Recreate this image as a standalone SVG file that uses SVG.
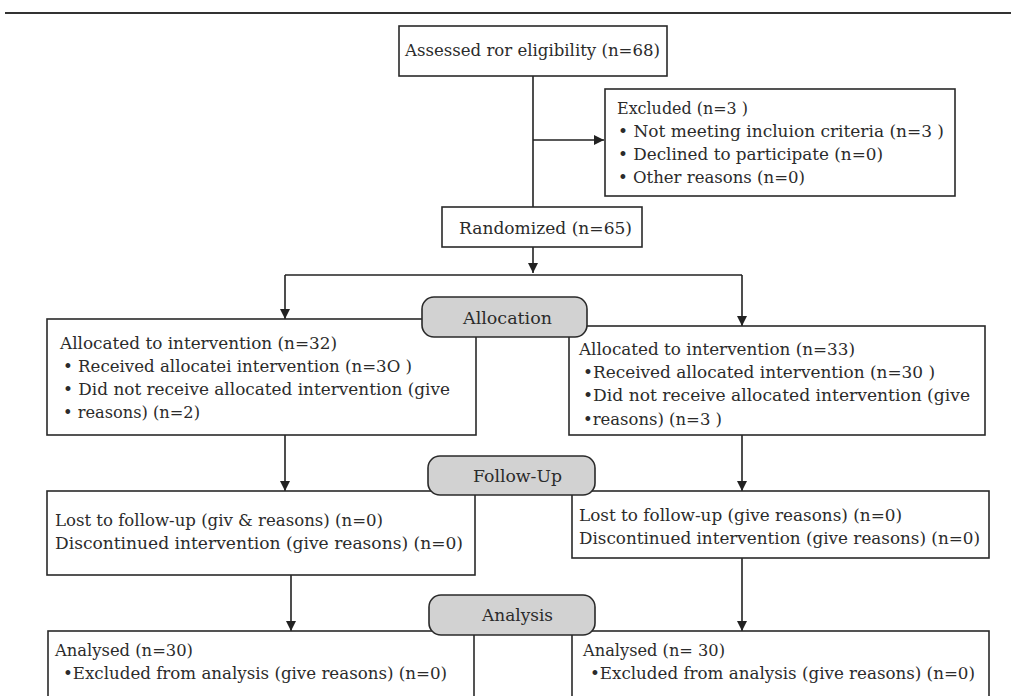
<svg xmlns="http://www.w3.org/2000/svg" width="1011" height="696" viewBox="0 0 1011 696">
<defs>
<style>
.box{fill:#fff;stroke:#2a2a2a;stroke-width:1.6}
.pill{fill:#d2d2d2;stroke:#2a2a2a;stroke-width:1.6}
.t{font-family:"DejaVu Serif","Liberation Serif",serif;font-size:16px;fill:#2b2b2b}
.pt{font-family:"DejaVu Serif","Liberation Serif",serif;font-size:16px;fill:#2b2b2b}
.ln{fill:none;stroke:#222;stroke-width:1.6}
</style>
<marker id="ah" viewBox="0 0 10 10" refX="10" refY="5" markerWidth="10" markerHeight="10" markerUnits="userSpaceOnUse" orient="auto">
<path d="M0,0 L10,5 L0,10 z" fill="#222"/>
</marker>
</defs>
<rect width="1011" height="696" fill="#fff"/>
<line x1="5" y1="13" x2="1011" y2="13" stroke="#333" stroke-width="2.2"/>

<g id="connectors">
<line class="ln" x1="533" y1="76" x2="533" y2="207"/>
<line class="ln" x1="533" y1="140" x2="604" y2="140" marker-end="url(#ah)"/>
<line class="ln" x1="533" y1="247" x2="533" y2="273" marker-end="url(#ah)"/>
<line class="ln" x1="285" y1="275" x2="742" y2="275"/>
<line class="ln" x1="285" y1="275" x2="285" y2="319" marker-end="url(#ah)"/>
<line class="ln" x1="742" y1="275" x2="742" y2="326" marker-end="url(#ah)"/>
<line class="ln" x1="285" y1="435" x2="285" y2="491" marker-end="url(#ah)"/>
<line class="ln" x1="742" y1="435" x2="742" y2="491" marker-end="url(#ah)"/>
<line class="ln" x1="291" y1="575" x2="291" y2="631" marker-end="url(#ah)"/>
<line class="ln" x1="742" y1="558" x2="742" y2="631" marker-end="url(#ah)"/>
</g>

<g id="assessed">
<rect class="box" x="399" y="26" width="268" height="50"/>
<text class="t" x="405" y="56" textLength="255" lengthAdjust="spacingAndGlyphs">Assessed ror eligibility (n=68)</text>
</g>

<g id="excluded">
<rect class="box" x="605" y="89" width="350" height="107"/>
<text class="t" x="617" y="114" textLength="131" lengthAdjust="spacingAndGlyphs">Excluded (n=3 )</text>
<text class="t" x="618" y="137" textLength="326" lengthAdjust="spacingAndGlyphs">• Not meeting incluion criteria (n=3 )</text>
<text class="t" x="618" y="160" textLength="265" lengthAdjust="spacingAndGlyphs">• Declined to participate (n=0)</text>
<text class="t" x="618" y="183" textLength="187" lengthAdjust="spacingAndGlyphs">• Other reasons (n=0)</text>
</g>

<g id="randomized">
<rect class="box" x="442" y="207" width="200" height="40"/>
<text class="t" x="459" y="234" textLength="173" lengthAdjust="spacingAndGlyphs">Randomized (n=65)</text>
</g>

<g id="alloc-left">
<rect class="box" x="47" y="319" width="429" height="116"/>
<text class="t" x="60" y="349" textLength="277" lengthAdjust="spacingAndGlyphs">Allocated to intervention (n=32)</text>
<text class="t" x="63" y="372" textLength="349" lengthAdjust="spacingAndGlyphs">• Received allocatei intervention (n=3O )</text>
<text class="t" x="63" y="395" textLength="387" lengthAdjust="spacingAndGlyphs">• Did not receive allocated intervention (give</text>
<text class="t" x="63" y="418" textLength="137" lengthAdjust="spacingAndGlyphs">• reasons) (n=2)</text>
</g>

<g id="alloc-right">
<rect class="box" x="569" y="326" width="416" height="109"/>
<text class="t" x="579" y="355" textLength="276" lengthAdjust="spacingAndGlyphs">Allocated to intervention (n=33)</text>
<text class="t" x="583" y="378" textLength="352" lengthAdjust="spacingAndGlyphs">•Received allocated intervention (n=30 )</text>
<text class="t" x="583" y="401" textLength="387" lengthAdjust="spacingAndGlyphs">•Did not receive allocated intervention (give</text>
<text class="t" x="583" y="425" textLength="139" lengthAdjust="spacingAndGlyphs">•reasons) (n=3 )</text>
</g>

<g id="allocation">
<rect class="pill" x="422" y="297" width="165" height="40" rx="12"/>
<text class="pt" x="463" y="324" textLength="89" lengthAdjust="spacingAndGlyphs">Allocation</text>
</g>

<g id="follow-left">
<rect class="box" x="47" y="491" width="428" height="84"/>
<text class="t" x="55" y="526" textLength="328" lengthAdjust="spacingAndGlyphs">Lost to follow-up (giv &amp; reasons) (n=0)</text>
<text class="t" x="55" y="549" textLength="408" lengthAdjust="spacingAndGlyphs">Discontinued intervention (give reasons) (n=0)</text>
</g>

<g id="follow-right">
<rect class="box" x="572" y="491" width="417" height="67"/>
<text class="t" x="579" y="521" textLength="323" lengthAdjust="spacingAndGlyphs">Lost to follow-up (give reasons) (n=0)</text>
<text class="t" x="579" y="544" textLength="401" lengthAdjust="spacingAndGlyphs">Discontinued intervention (give reasons) (n=0)</text>
</g>

<g id="followup">
<rect class="pill" x="428" y="456" width="167" height="39" rx="12"/>
<text class="pt" x="473" y="482" textLength="89" lengthAdjust="spacingAndGlyphs">Follow-Up</text>
</g>

<g id="analysis-left">
<rect class="box" x="48" y="631" width="426" height="80"/>
<text class="t" x="55" y="656" textLength="138" lengthAdjust="spacingAndGlyphs">Analysed (n=30)</text>
<text class="t" x="63" y="679" textLength="384" lengthAdjust="spacingAndGlyphs">•Excluded from analysis (give reasons) (n=0)</text>
</g>

<g id="analysis-right">
<rect class="box" x="572" y="631" width="417" height="80"/>
<text class="t" x="583" y="656" textLength="142" lengthAdjust="spacingAndGlyphs">Analysed (n= 30)</text>
<text class="t" x="590" y="679" textLength="385" lengthAdjust="spacingAndGlyphs">•Excluded from analysis (give reasons) (n=0)</text>
</g>

<g id="analysis">
<rect class="pill" x="429" y="595" width="166" height="40" rx="12"/>
<text class="pt" x="482" y="621" textLength="71" lengthAdjust="spacingAndGlyphs">Analysis</text>
</g>
</svg>
